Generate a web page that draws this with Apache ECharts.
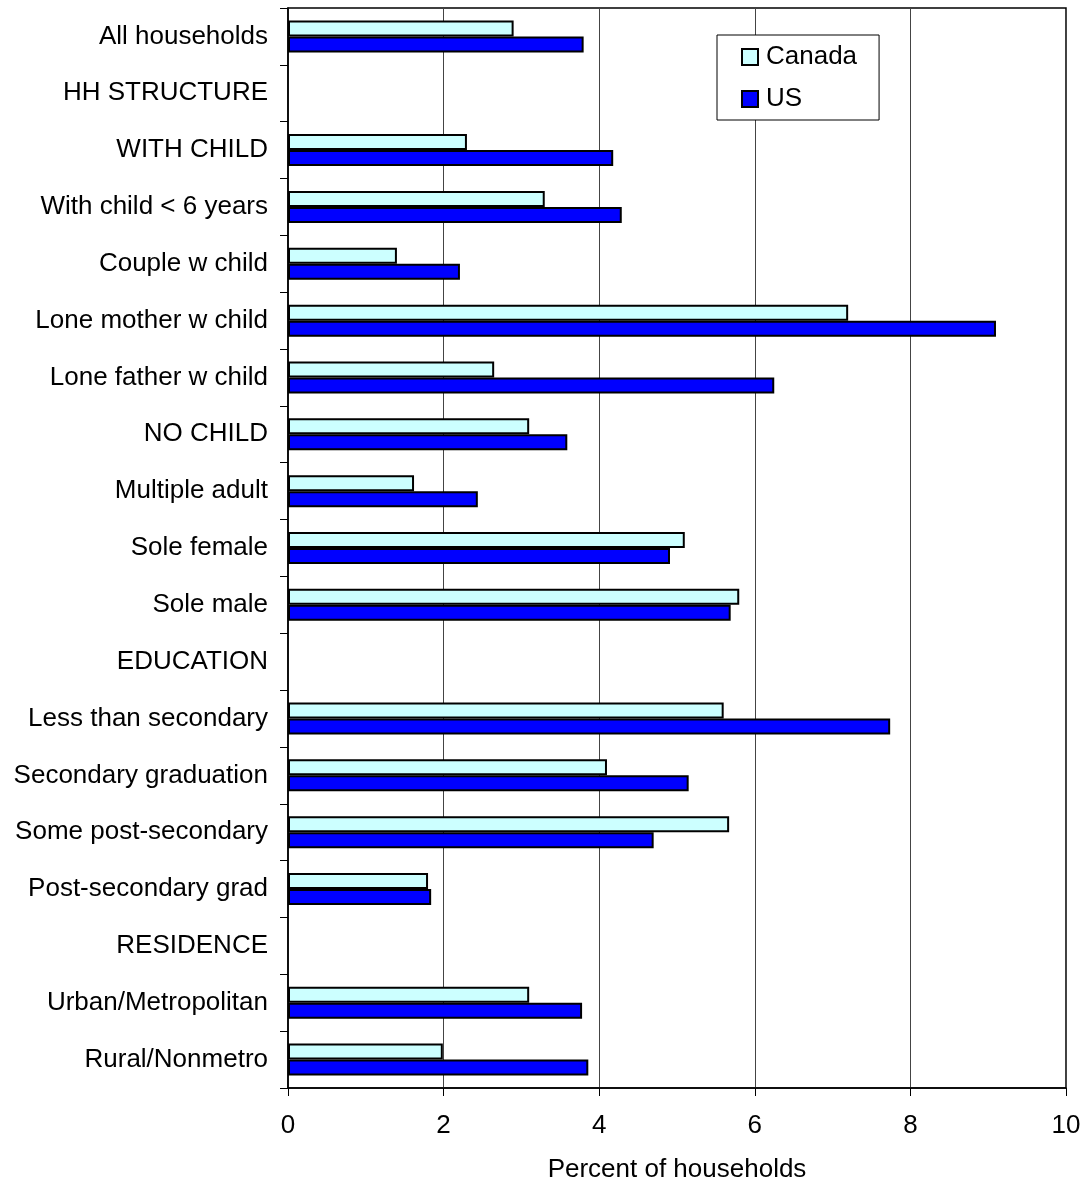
<!DOCTYPE html>
<html>
<head>
<meta charset="utf-8">
<script src="https://cdn.jsdelivr.net/npm/echarts@6/dist/echarts.min.js"></script>
<style>
  html, body { margin: 0; padding: 0; background: #fff; }
  #chart { width: 1087px; height: 1188px; }
</style>
</head>
<body>
<div id="chart"></div>
<script>
// Household groups, top to bottom; section headings carry no bars
const categories = [
  'All households', 'HH STRUCTURE', 'WITH CHILD', 'With child < 6 years',
  'Couple w child', 'Lone mother w child', 'Lone father w child', 'NO CHILD',
  'Multiple adult', 'Sole female', 'Sole male', 'EDUCATION',
  'Less than secondary', 'Secondary graduation', 'Some post-secondary',
  'Post-secondary grad', 'RESIDENCE', 'Urban/Metropolitan', 'Rural/Nonmetro'
];

// Percent of households
const canada = [2.9, null, 2.3, 3.3, 1.4, 7.2, 2.65, 3.1, 1.62, 5.1, 5.8, null,
                5.6, 4.1, 5.67, 1.8, null, 3.1, 1.99];
const us =     [3.8, null, 4.18, 4.29, 2.21, 9.1, 6.25, 3.59, 2.44, 4.91, 5.69, null,
                7.74, 5.15, 4.7, 1.84, null, 3.78, 3.86];

const xTicks = { min: 0, max: 10, interval: 2 };

const chart = echarts.init(document.getElementById('chart'), null, { renderer: 'canvas' });

const fontFamily = '"Liberation Sans", Arial, sans-serif';
const fontSize = 26;

chart.setOption({
  animation: false,
  backgroundColor: '#ffffff',
  grid: { left: 288, right: 21, top: 8, bottom: 97, show: true, borderColor: '#000', borderWidth: 1.5 },
  legend: {
    orient: 'vertical',
    left: 717, top: 35,
    padding: [9, 22, 8, 24],
    itemGap: 16,
    itemWidth: 16, itemHeight: 16,
    backgroundColor: '#fff',
    borderColor: '#000', borderWidth: 1,
    textStyle: { fontFamily, fontSize, color: '#000', padding: [0, 0, 0, 3] },
    data: [{ name: 'Canada', icon: 'rect' }, { name: 'US', icon: 'rect' }]
  },
  xAxis: {
    type: 'value',
    min: xTicks.min, max: xTicks.max, interval: xTicks.interval,
    name: 'Percent of households',
    nameLocation: 'middle', nameGap: 69,
    nameTextStyle: { fontFamily, fontSize, color: '#000' },
    axisLine: { show: true, lineStyle: { color: '#000', width: 1.5 } },
    axisTick: { show: true, length: 8, lineStyle: { color: '#000' } },
    axisLabel: { fontFamily, fontSize, color: '#000', margin: 25 },
    splitLine: { show: true, lineStyle: { color: '#444', width: 1 } }
  },
  yAxis: {
    type: 'category',
    inverse: true,
    data: categories,
    axisLine: { show: true, lineStyle: { color: '#000', width: 1.5 } },
    axisTick: { show: true, length: 8, alignWithLabel: false, lineStyle: { color: '#000' } },
    axisLabel: { fontFamily, fontSize, color: '#000', margin: 20 },
    splitLine: { show: false }
  },
  series: [
    {
      name: 'Canada', type: 'bar', data: canada,
      barWidth: 16, barGap: '0%',
      itemStyle: { color: '#CCFFFF', borderColor: '#000', borderWidth: 2 }
    },
    {
      name: 'US', type: 'bar', data: us,
      barWidth: 16, barGap: '0%',
      itemStyle: { color: '#0000FF', borderColor: '#000', borderWidth: 2 }
    }
  ]
});
</script>
</body>
</html>
